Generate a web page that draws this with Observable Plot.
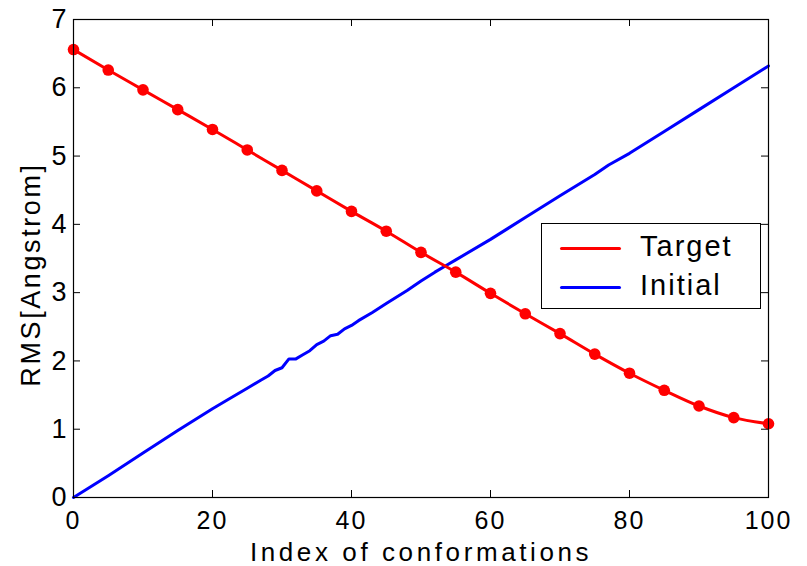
<!DOCTYPE html>
<html>
<head>
<meta charset="utf-8">
<script src="https://cdn.jsdelivr.net/npm/d3@7"></script>
<script src="https://cdn.jsdelivr.net/npm/@observablehq/plot@0.6"></script>
<style>
  html, body { margin: 0; padding: 0; background: #fff; }
  #wrap { position: relative; width: 807px; height: 566px; }
  #wrap svg { position: absolute; left: 0; top: 0; }
  g[aria-label="x-axis label"] text { letter-spacing: 3.6px; font-size: 26px; }
  g[aria-label="x-axis tick label"] text { font-size: 25px; }
  g.ylab text { letter-spacing: 2.6px; }
  g[aria-label$="tick label"] text { letter-spacing: 2px; }
  #legend {
    position: absolute; left: 541px; top: 223px; width: 218px; height: 84px;
    border: 1px solid #000; background: #fff;
    font-family: "Liberation Sans", Arial, sans-serif; font-size: 29px; letter-spacing: 2px;
  }
  .item { position: absolute; left: 0; height: 30px; width: 218px; }
  .swatch { position: absolute; left: 18px; width: 61px; height: 3px; border-radius: 2px; }
  .lab { position: absolute; left: 98px; line-height: 30px; top: -16px; color: #000; }
</style>
</head>
<body>
<div id="wrap"></div>
<script>
// Tick values
const xTicks = [0, 20, 40, 60, 80, 100];
const yTicks = [0, 1, 2, 3, 4, 5, 6, 7];
const xLabel = "Index of conformations";
const yLabel = "RMS[Angstrom]";

// Target series (markers every 5 conformations)
const targetX = [0, 5, 10, 15, 20, 25, 30, 35, 40, 45, 50, 55, 60, 65, 70, 75, 80, 85, 90, 95, 100];
const targetY = [6.56, 6.26, 5.97, 5.68, 5.39, 5.09, 4.79, 4.49, 4.19, 3.90, 3.59, 3.30, 2.99, 2.69, 2.40, 2.10, 1.82, 1.57, 1.34, 1.17, 1.08];

// Initial series
const initialX = [0, 5, 10, 15, 20, 22, 25, 27, 28, 29, 30, 31, 32, 33, 34, 35, 36, 37, 38, 39, 40, 41, 43, 45, 48, 50, 52, 53.5, 55, 60, 65, 70, 75, 77, 80, 85, 90, 95, 100];
const initialY = [0, 0.32, 0.65, 0.98, 1.30, 1.42, 1.60, 1.72, 1.78, 1.86, 1.90, 2.03, 2.03, 2.09, 2.15, 2.24, 2.29, 2.37, 2.39, 2.47, 2.52, 2.59, 2.71, 2.84, 3.03, 3.17, 3.30, 3.39, 3.48, 3.78, 4.10, 4.42, 4.73, 4.87, 5.04, 5.36, 5.68, 6.00, 6.32];

const seriesNames = ["Target", "Initial"];
const seriesColors = ["#ff0000", "#0000ff"];

const target = targetX.map((x, i) => ({x, y: targetY[i]}));
const initial = initialX.map((x, i) => ({x, y: initialY[i]}));

const W = 807, H = 566, mL = 73, mR = 39, mT = 19, mB = 69;
const frameW = W - mL - mR, frameH = H - mT - mB, tickLen = 7;

const chart = Plot.plot({
  width: W,
  height: H,
  marginLeft: mL,
  marginRight: mR,
  marginTop: mT,
  marginBottom: mB,
  style: {fontFamily: "'Liberation Sans', Arial, sans-serif", fontSize: "27px", color: "#000", background: "#fff"},
  x: {domain: [0, 100]},
  y: {domain: [0, 7]},
  marks: [
    Plot.line(initial, {x: "x", y: "y", stroke: seriesColors[1], strokeWidth: 3, strokeLinejoin: "round"}),
    Plot.line(target, {x: "x", y: "y", stroke: seriesColors[0], strokeWidth: 3, curve: "monotone-x"}),
    Plot.dot(target, {x: "x", y: "y", r: 5.8, fill: seriesColors[0], stroke: "none"}),
    Plot.frame({stroke: "#000", strokeWidth: 1.2}),
    // inward ticks on all four sides
    Plot.tickX(xTicks, {x: d => d, stroke: "#000", insetTop: frameH - tickLen}),
    Plot.tickX(xTicks, {x: d => d, stroke: "#000", insetBottom: frameH - tickLen}),
    Plot.tickY(yTicks, {y: d => d, stroke: "#000", insetRight: frameW - tickLen}),
    Plot.tickY(yTicks, {y: d => d, stroke: "#000", insetLeft: frameW - tickLen}),
    Plot.axisX(xTicks, {anchor: "bottom", tickSize: 0, tickPadding: 14, tickFormat: d3.format("d"), label: xLabel, labelAnchor: "center", labelArrow: "none", labelOffset: 63}),
    Plot.axisY(yTicks, {anchor: "left", tickSize: 0, tickPadding: 5, tickFormat: d3.format("d"), label: null}),
    Plot.text([yLabel], {text: d => d, frameAnchor: "left", rotate: -90, dx: -42, dy: 16, textAnchor: "middle", lineAnchor: "middle", className: "ylab", fill: "#000"})
  ]
});
const wrap = document.getElementById("wrap");
wrap.appendChild(chart);

const legend = document.createElement("div");
legend.id = "legend";
seriesNames.forEach((name, i) => {
  const item = document.createElement("div");
  item.className = "item";
  item.style.top = (i === 0 ? 23 : 62) + "px";
  const sw = document.createElement("div");
  sw.className = "swatch";
  sw.style.background = seriesColors[i];
  const lab = document.createElement("div");
  lab.className = "lab";
  lab.textContent = name;
  item.appendChild(sw);
  item.appendChild(lab);
  legend.appendChild(item);
});
wrap.appendChild(legend);
</script>
</body>
</html>
